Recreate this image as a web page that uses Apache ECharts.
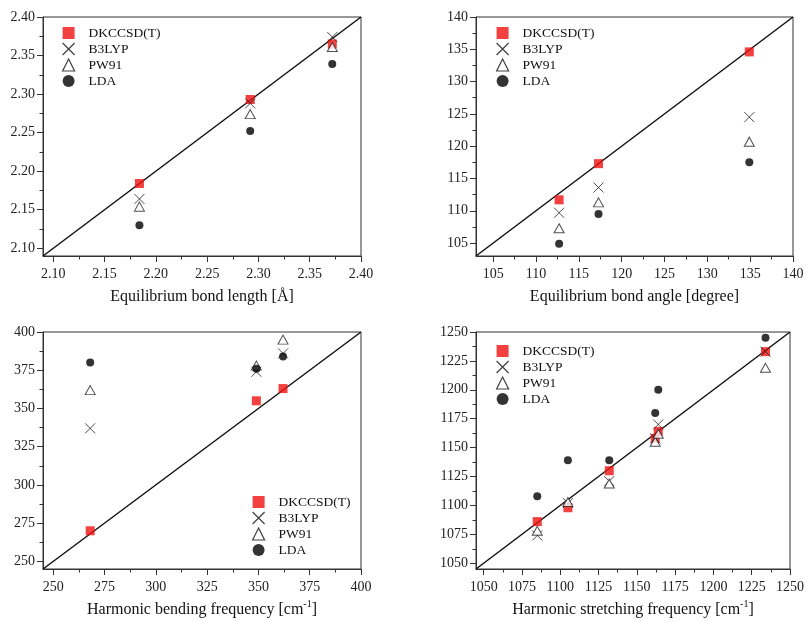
<!DOCTYPE html>
<html>
<head>
<meta charset="utf-8">
<script src="https://cdn.jsdelivr.net/npm/echarts@6/dist/echarts.min.js"></script>
<style>
html, body { margin: 0; padding: 0; background: #fff; }
#main { width: 807px; height: 622px; }
</style>
</head>
<body>
<div id="main"></div>
<script>
// 数据
var methods = ['DKCCSD(T)', 'B3LYP', 'PW91', 'LDA'];

// Equilibrium bond length
var lenExp = [2.184, 2.292, 2.372];
var lenDK = [2.184, 2.293, 2.365];
var lenB3 = [2.164, 2.288, 2.374];
var lenPW = [2.154, 2.274, 2.361];
var lenLDA = [2.130, 2.252, 2.339];
var lenTicks = [2.10, 2.15, 2.20, 2.25, 2.30, 2.35, 2.40];
var lenRange = [2.09, 2.40];

// Equilibrium bond angle
var angExp = [112.7, 117.3, 134.9];
var angDK = [111.7, 117.3, 134.6];
var angB3 = [109.7, 113.6, 124.5];
var angPW = [107.3, 111.3, 120.7];
var angLDA = [104.9, 109.5, 117.5];
var angTicks = [105, 110, 115, 120, 125, 130, 135, 140];
var angRange = [103, 140];

// Harmonic bending frequency
var bendExp = [268, 349, 362];
var bendDK = [270, 355, 363];
var bendB3 = [337, 374, 386];
var bendPW = [362, 378, 395];
var bendLDA = [380, 376, 384];
var bendTicks = [250, 275, 300, 325, 350, 375, 400];
var bendRange = [245, 400];

// Harmonic stretching frequency
var strExp = [1085, 1105, 1132, 1162, 1164, 1234];
var strDK = [1086, 1098, 1130, 1158, 1164, 1233];
var strB3 = [1074, 1102, 1121, 1158, 1170, 1233];
var strPW = [1078, 1103, 1119, 1155, 1162, 1219];
var strLDA = [1108, 1139, 1139, 1180, 1200, 1245];
var strTicks = [1050, 1075, 1100, 1125, 1150, 1175, 1200, 1225, 1250];
var strRange = [1045, 1250];

var serif = 'Liberation Serif';
var xPath = 'path://M0,0L10,10M0,10L10,0';

var panels = [
    { grid: { left: 43, top: 17, width: 318, height: 239 }, range: lenRange, ticks: lenTicks, digits: 2,
      name: 'Equilibrium bond length [Å]', exp: lenExp, vals: [lenDK, lenB3, lenPW, lenLDA], legendPos: { left: 62, top: 26 } },
    { grid: { left: 476, top: 17, width: 317, height: 239 }, range: angRange, ticks: angTicks, digits: 0,
      name: 'Equilibrium bond angle [degree]', exp: angExp, vals: [angDK, angB3, angPW, angLDA], legendPos: { left: 496, top: 26 } },
    { grid: { left: 43, top: 332, width: 318, height: 239 }, range: bendRange, ticks: bendTicks, digits: 0,
      name: 'Harmonic bending frequency [cm{sup|-1}]', exp: bendExp, vals: [bendDK, bendB3, bendPW, bendLDA], legendPos: { left: 252, top: 495 } },
    { grid: { left: 476, top: 332, width: 317, height: 239 }, range: strRange, ticks: strTicks, digits: 0,
      name: 'Harmonic stretching frequency [cm{sup|-1}]', exp: strExp, vals: [strDK, strB3, strPW, strLDA], legendPos: { left: 496, top: 344 } }
];

// 符号样式
var markStyles = [
    { symbol: 'rect', symbolSize: 9, itemStyle: { color: '#f01010', borderWidth: 0 } },
    { symbol: xPath, symbolSize: 10, itemStyle: { color: 'rgba(0,0,0,0)', borderColor: '#222', borderWidth: 1 } },
    { symbol: 'triangle', symbolSize: [10, 9], itemStyle: { color: '#fff', borderColor: '#222', borderWidth: 1 } },
    { symbol: 'circle', symbolSize: 8, itemStyle: { color: '#000', borderWidth: 0 } }
];

var legendData = [
    { name: methods[0], icon: 'rect', itemStyle: { color: '#f01010', borderWidth: 0 } },
    { name: methods[1], icon: xPath, itemStyle: { color: 'rgba(0,0,0,0)', borderColor: '#111', borderWidth: 1.2 } },
    { name: methods[2], icon: 'triangle', itemStyle: { color: '#fff', borderColor: '#111', borderWidth: 1.2 } },
    { name: methods[3], icon: 'circle', itemStyle: { color: '#000', borderWidth: 0 } }
];

function minorOf(ticks) {
    var out = [];
    for (var i = 0; i < ticks.length - 1; i++) out.push((ticks[i] + ticks[i + 1]) / 2);
    return out;
}

function mainAxis(p, i, isX) {
    return {
        type: 'value', gridIndex: i, min: p.range[0], max: p.range[1],
        position: isX ? 'bottom' : 'left',
        name: isX ? p.name : '', nameLocation: 'middle', nameGap: 30,
        nameTextStyle: {
            fontFamily: serif, fontSize: 16, color: '#111', lineHeight: 22,
            rich: { sup: { fontFamily: serif, fontSize: 10, color: '#111', verticalAlign: 'top' } }
        },
        axisLine: { show: true, onZero: false, lineStyle: { color: '#333', width: 1 } },
        axisTick: { show: true, inside: false, length: 6, customValues: p.ticks, lineStyle: { color: '#333' } },
        axisLabel: {
            customValues: p.ticks, margin: isX ? 11 : 8, fontFamily: serif, fontSize: 14, color: '#222',
            formatter: function (v) { return v.toFixed(p.digits); }
        },
        splitLine: { show: false }
    };
}

function minorAxis(p, i, isX) {
    return {
        type: 'value', gridIndex: i, min: p.range[0], max: p.range[1],
        position: isX ? 'bottom' : 'left',
        axisLine: { show: false, onZero: false },
        axisTick: { show: true, inside: false, length: 3.5, customValues: minorOf(p.ticks), lineStyle: { color: '#333' } },
        axisLabel: { show: false },
        splitLine: { show: false }
    };
}

var grids = [], xAxes = [], yAxes = [], series = [], legends = [];

panels.forEach(function (p, i) {
    grids.push(Object.assign({ show: true, borderColor: '#333', borderWidth: 1, backgroundColor: 'transparent' }, p.grid));
    xAxes[i] = mainAxis(p, i, true);
    yAxes[i] = mainAxis(p, i, false);
    xAxes[i + 4] = minorAxis(p, i, true);
    yAxes[i + 4] = minorAxis(p, i, false);

    // 对角线
    series.push({
        type: 'line', xAxisIndex: i, yAxisIndex: i, silent: true, z: 1,
        symbol: 'none', lineStyle: { color: '#111', width: 1.5 },
        data: [[p.range[0], p.range[0]], [p.range[1], p.range[1]]]
    });

    p.vals.forEach(function (vals, k) {
        series.push(Object.assign({
            name: methods[k], type: 'scatter', xAxisIndex: i, yAxisIndex: i, z: 2 + k,
            data: p.exp.map(function (x, j) { return [x, vals[j]]; })
        }, markStyles[k]));
    });

    legends.push({
        orient: 'vertical', left: p.legendPos.left, top: p.legendPos.top, padding: 0,
        itemWidth: 12, itemHeight: 12, itemGap: 2, selectedMode: false,
        textStyle: { fontFamily: serif, fontSize: 13.5, color: '#111', padding: [0, 0, 0, 9] },
        data: legendData
    });
});

var myChart = echarts.init(document.getElementById('main'));
myChart.setOption({
    animation: false,
    grid: grids,
    xAxis: xAxes,
    yAxis: yAxes,
    legend: legends,
    series: series
});
</script>
</body>
</html>
